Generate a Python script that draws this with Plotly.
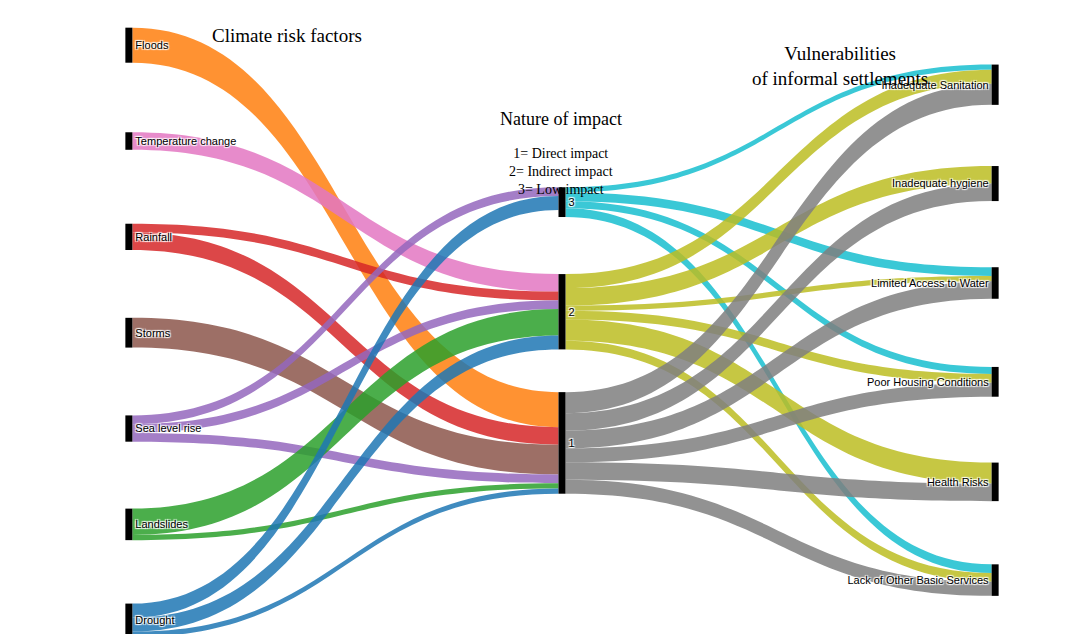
import plotly.graph_objects as go

left = ["Floods", "Temperature change", "Rainfall", "Storms", "Sea level rise", "Landslides", "Drought"]
middle = ["3", "2", "1"]
right = ["Inadequate Sanitation", "Inadequate hygiene", "Limited Access to Water",
         "Poor Housing Conditions", "Health Risks", "Lack of Other Basic Services"]
labels = left + middle + right

left_colors = ["#ff7f0e", "#e377c2", "#d62728", "#8c564b", "#9467bd", "#2ca02c", "#1f77b4"]
mid_colors = ["#17becf", "#bcbd22", "#7f7f7f"]

# (source, target, value)
left_links = [
    ("Floods", "1", 20), ("Temperature change", "2", 10),
    ("Rainfall", "2", 5), ("Rainfall", "1", 10), ("Storms", "1", 17),
    ("Sea level rise", "3", 5), ("Sea level rise", "2", 5), ("Sea level rise", "1", 5),
    ("Landslides", "2", 15), ("Landslides", "1", 3),
    ("Drought", "3", 8), ("Drought", "2", 8), ("Drought", "1", 3),
]
right_links = [
    ("3", "Inadequate Sanitation", 3), ("3", "Limited Access to Water", 5),
    ("3", "Poor Housing Conditions", 4), ("3", "Lack of Other Basic Services", 5),
    ("2", "Inadequate Sanitation", 8), ("2", "Inadequate hygiene", 10),
    ("2", "Limited Access to Water", 3), ("2", "Poor Housing Conditions", 5),
    ("2", "Health Risks", 12), ("2", "Lack of Other Basic Services", 5),
    ("1", "Inadequate Sanitation", 12), ("1", "Inadequate hygiene", 10),
    ("1", "Limited Access to Water", 10), ("1", "Poor Housing Conditions", 8),
    ("1", "Health Risks", 10), ("1", "Lack of Other Basic Services", 8),
]

x_pos = [0.001] * 7 + [0.5] * 3 + [0.999] * 6
y_pos = [0.012, 0.172, 0.332, 0.492, 0.652, 0.812, 0.972,
         0.274, 0.457, 0.676,
         0.078, 0.243, 0.409, 0.574, 0.741, 0.905]

def rgba(h, a):
    h = h.lstrip("#")
    return f"rgba({int(h[0:2],16)},{int(h[2:4],16)},{int(h[4:6],16)},{a})"

color_of = dict(zip(left + middle, left_colors + mid_colors))
idx = {l: i for i, l in enumerate(labels)}
links = left_links + right_links

fig = go.Figure(go.Sankey(
    arrangement="fixed",
    node=dict(label=labels, x=x_pos, y=y_pos, pad=89, thickness=7,
              color="black", line=dict(width=0)),
    link=dict(source=[idx[s] for s, t, v in links],
              target=[idx[t] for s, t, v in links],
              value=[v for s, t, v in links],
              color=[rgba(color_of[s], 0.85) for s, t, v in links]),
    textfont=dict(family="Arial", size=11, color="black"),
))

serif = dict(family="Liberation Serif", color="black")
fig.update_layout(
    width=1080, height=634, paper_bgcolor="white",
    margin=dict(l=120, r=92, t=30, b=5),
    annotations=[
        dict(text="Climate risk factors", x=0.094, y=1.025, xref="paper", yref="paper",
             showarrow=False, font=dict(size=19, **serif)),
        dict(text="Nature of impact", x=0.499, y=0.885, xref="paper", yref="paper",
             showarrow=False, font=dict(size=18, **serif)),
        dict(text="1= Direct impact<br>2= Indirect impact<br>3= Low impact", x=0.499, y=0.823,
             xref="paper", yref="paper", showarrow=False, font=dict(size=14, **serif)),
        dict(text="Vulnerabilities<br>of informal settlements", x=0.924, y=0.995,
             xref="paper", yref="paper", showarrow=False, font=dict(size=19, **serif)),
    ],
)
fig.write_html("out.html")
